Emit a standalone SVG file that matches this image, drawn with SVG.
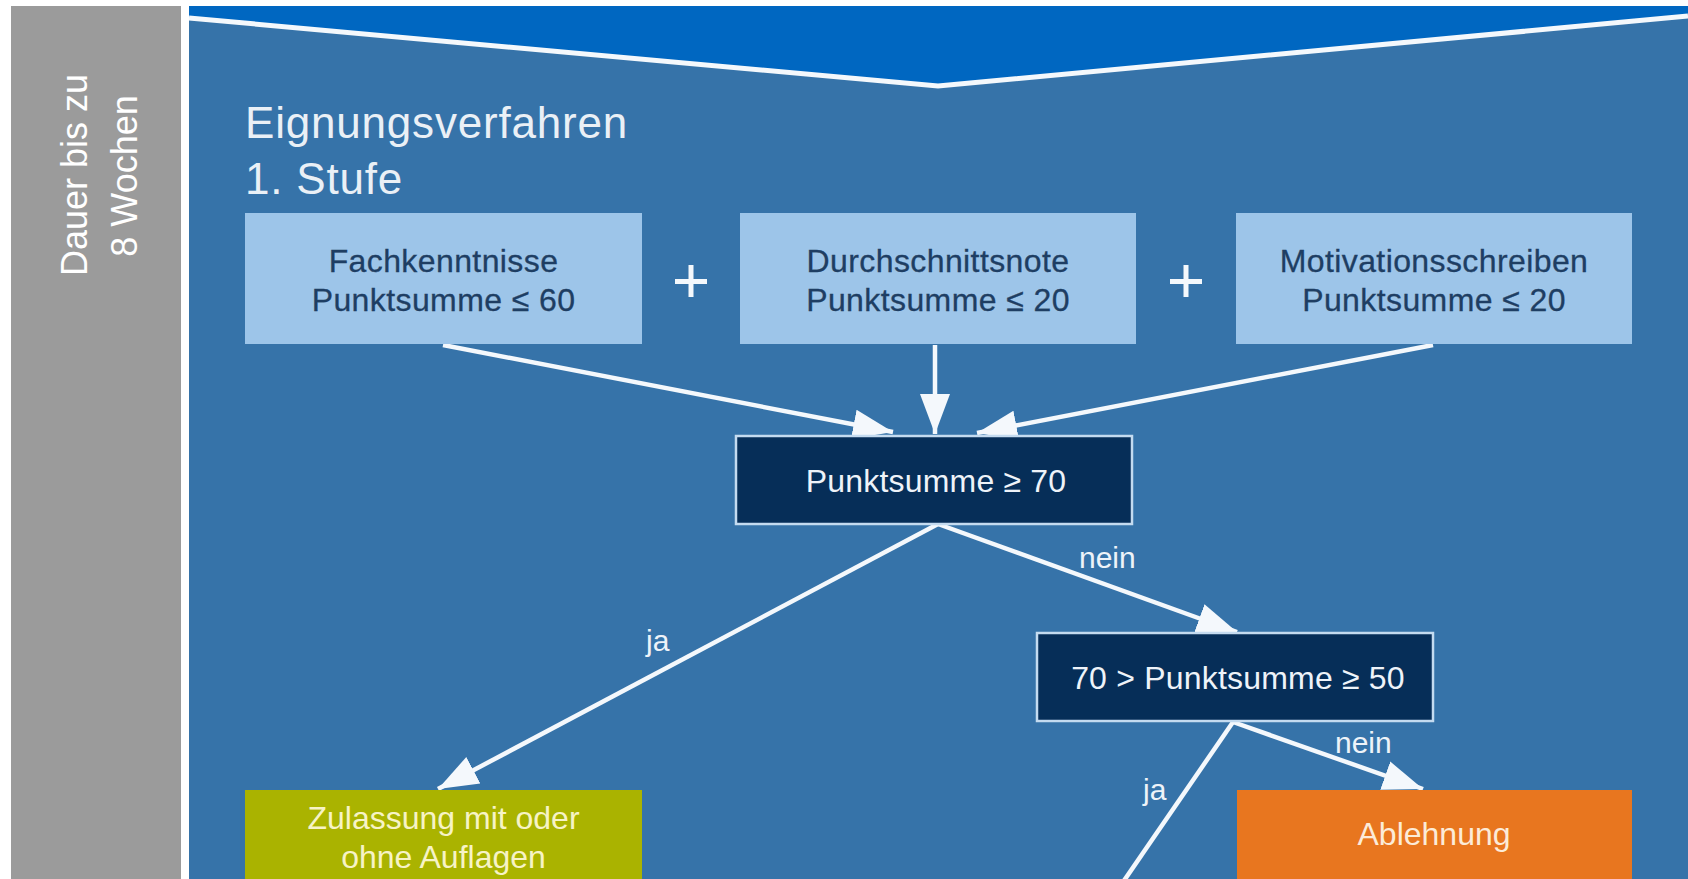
<svg xmlns="http://www.w3.org/2000/svg" width="1688" height="879" viewBox="0 0 1688 879">
<defs>
<style>
.t{font-family:"Liberation Sans",Arial,sans-serif;}
.light{fill:#9DC5E9;}
.lt{fill:#1E3E63;font-size:32px;text-anchor:middle;letter-spacing:0.4px;stroke:#1E3E63;stroke-width:0.3px;}
.dark{fill:#062E58;stroke:#C4DBF0;stroke-width:2.5;}
.dt{fill:#EEF3F9;font-size:32px;text-anchor:middle;letter-spacing:0.2px;}
.lbl{fill:#EEF3F9;font-size:30px;}
.conn{stroke:#F4F8FC;stroke-width:4.5;fill:none;}
.plus{fill:#F4F8FC;}
</style>
<marker id="ah" markerUnits="userSpaceOnUse" markerWidth="42" markerHeight="34" refX="40" refY="17" orient="auto">
<path d="M0,2 L40,17 L0,32 Z" fill="#F4F8FC"/>
</marker>
</defs>
<rect x="0" y="0" width="1688" height="879" fill="#FFFFFF"/>
<g id="side">
<rect x="11" y="6" width="170" height="873" fill="#9B9B9B"/>
<text class="t" transform="translate(87,175) rotate(-90)" font-size="36" fill="#FFFFFF" text-anchor="middle">Dauer bis zu</text>
<text class="t" transform="translate(137,176) rotate(-90)" font-size="36" fill="#FFFFFF" text-anchor="middle">8 Wochen</text>
</g>
<g id="background">
<rect x="189" y="6" width="1499" height="873" fill="#3673A9"/>
<polygon points="189,6 1688,6 1688,16 938,86 189,18" fill="#0067C1"/>
<polyline points="189,18 938,86 1688,16" fill="none" stroke="#F4F8FC" stroke-width="5"/>
</g>
<g id="title">
<text class="t" x="245" y="138" font-size="44" letter-spacing="0.8" fill="#EAF0F6">Eignungsverfahren</text>
<text class="t" x="245" y="194" font-size="44" letter-spacing="0.8" fill="#EAF0F6">1. Stufe</text>
</g>
<g id="connectors">
<line class="conn" x1="443" y1="345" x2="893" y2="432" marker-end="url(#ah)"/>
<line class="conn" x1="935" y1="345" x2="935" y2="434" marker-end="url(#ah)"/>
<line class="conn" x1="1433" y1="345" x2="977" y2="433" marker-end="url(#ah)"/>
<line class="conn" x1="938" y1="524" x2="438" y2="789" marker-end="url(#ah)"/>
<line class="conn" x1="938" y1="524" x2="1237" y2="632" marker-end="url(#ah)"/>
<line class="conn" x1="1233" y1="722" x2="1423" y2="789" marker-end="url(#ah)"/>
<line class="conn" x1="1233" y1="722" x2="1121" y2="885"/>
<text class="t lbl" x="646" y="651">ja</text>
<text class="t lbl" x="1079" y="568">nein</text>
<text class="t lbl" x="1335" y="753">nein</text>
<text class="t lbl" x="1143" y="800">ja</text>
</g>
<g id="fach">
<rect class="light" x="245" y="213" width="397" height="131"/>
<text class="t lt" x="443.5" y="272">Fachkenntnisse</text>
<text class="t lt" x="443.5" y="311">Punktsumme ≤ 60</text>
</g>
<g id="plus1">
<rect class="plus" x="675" y="279" width="32" height="5"/>
<rect class="plus" x="688.5" y="265" width="5" height="32"/>
</g>
<g id="durch">
<rect class="light" x="740" y="213" width="396" height="131"/>
<text class="t lt" x="938" y="272">Durchschnittsnote</text>
<text class="t lt" x="938" y="311">Punktsumme ≤ 20</text>
</g>
<g id="plus2">
<rect class="plus" x="1170" y="279" width="32" height="5"/>
<rect class="plus" x="1183.5" y="265" width="5" height="32"/>
</g>
<g id="motiv">
<rect class="light" x="1236" y="213" width="396" height="131"/>
<text class="t lt" x="1434" y="272">Motivationsschreiben</text>
<text class="t lt" x="1434" y="311">Punktsumme ≤ 20</text>
</g>
<g id="sum70">
<rect class="dark" x="736" y="436" width="396" height="88"/>
<text class="t dt" x="936" y="492">Punktsumme ≥ 70</text>
</g>
<g id="sum50">
<rect class="dark" x="1037" y="633" width="396" height="88"/>
<text class="t dt" x="1238" y="689">70 &gt; Punktsumme ≥ 50</text>
</g>
<g id="zulassung">
<rect x="245" y="790" width="397" height="95" fill="#AAB300"/>
<text class="t" x="443.5" y="829" font-size="32" fill="#F7F3C6" text-anchor="middle">Zulassung mit oder</text>
<text class="t" x="443.5" y="868" font-size="32" fill="#F7F3C6" text-anchor="middle">ohne Auflagen</text>
</g>
<g id="ablehnung">
<rect x="1237" y="790" width="395" height="95" fill="#E8761F"/>
<text class="t" x="1434" y="845" font-size="32" fill="#FCEBD8" text-anchor="middle">Ablehnung</text>
</g>
</svg>
